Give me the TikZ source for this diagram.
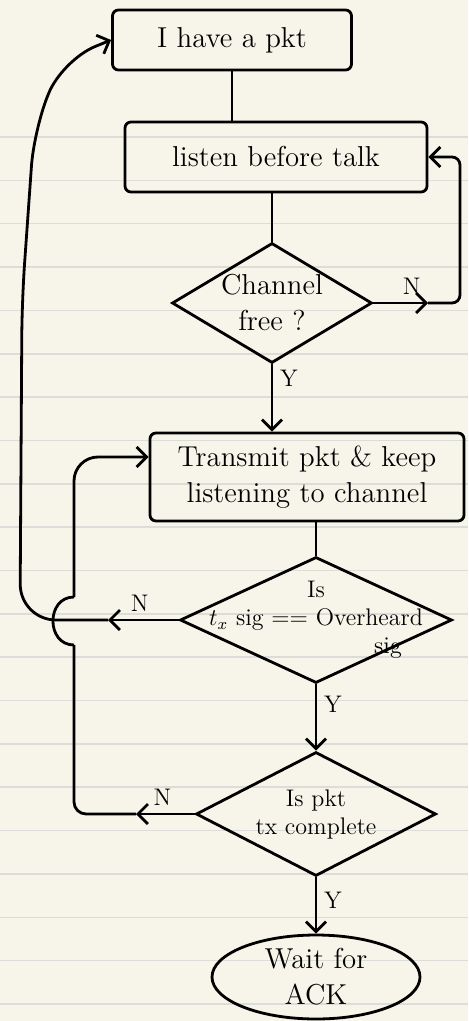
\documentclass[tikz,border=0pt]{standalone}
\usepackage{amsmath}
\usepackage{tikz}
\usetikzlibrary{shapes.geometric,arrows.meta,positioning}
\definecolor{paper}{HTML}{F7F5E9}
\definecolor{ruling}{HTML}{DCDCD8}

\begin{document}
\begin{tikzpicture}[x=0.5pt,y=-0.5pt,line width=1.4pt,
		>={Straight Barb[length=5pt,width=10pt]},
		box/.style={draw, rounded corners=3pt, font=\Large, align=center, inner sep=0pt},
		decide/.style={draw, diamond, inner sep=0pt},
		said/.style={font=\large}]
		\fill[paper] (0,0) rectangle (468,1021);
		\useasboundingbox (0,0) rectangle (468,1021);
		\foreach \k in {0,...,20}
			\draw[ruling, line width=0.8pt] (0,{137+43.35*\k}) -- (468,{137+43.35*\k});

		\node[box, minimum width=119.5pt, minimum height=30pt] (have) at (232,40) {I have a pkt};
		\node[box, minimum width=151pt, minimum height=35pt] (listen) at (276,157) {listen before talk};
		\node[decide, minimum width=100pt, minimum height=60pt,
			label={[font=\Large, align=center]center:Channel\\free ?}] (chan) at (272,303) {};
		\node[box, minimum width=157pt, minimum height=44pt] (tx) at (307,477) {Transmit pkt \& keep\\listening to channel};
		\node[decide, minimum width=136pt, minimum height=63pt,
			label={[font=\large, align=center]center:Is\\$t_x$ sig == Overheard\\\hspace*{6em}sig}] (sigchk) at (316,620) {};
		\node[decide, minimum width=120pt, minimum height=62pt,
			label={[font=\large, align=center]center:Is pkt\\tx complete}] (done) at (316,814) {};
		\node[draw, ellipse, minimum width=104pt, minimum height=42pt, font=\Large, align=center, inner sep=0pt] (ack) at (316,977) {Wait for\\ACK};

		\coordinate (nchan) at (428,303);
		\coordinate (nsig) at (108,620);
		\coordinate (ndone) at (136,814);

		\draw (have) -- (have |- listen.north);
		\draw (chan.north |- listen.south) -- (chan.north);
		\draw[->] (chan.east) -- node[said, above, pos=0.7]{N} (nchan);
		\draw[->, rounded corners=4pt] (nchan) -- ++(32,0) |- (listen.east);
		\draw[->] (chan.south) -- node[said, right, pos=0.2]{Y} (chan.south |- tx.north);
		\draw (sigchk.north |- tx.south) -- (sigchk.north);
		\draw[->] (sigchk.west) -- node[said, above, pos=0.55]{N} (nsig);
		\draw[->, rounded corners=18pt] (nsig) -- (20,620) -- (22,300) -- (34,130) -- (62,60) -- (have.west);
		\draw[->] (sigchk.south) -- node[said, right, pos=0.3]{Y} (done.north);
		\draw[->] (done.west) -- node[said, above, pos=0.55]{N} (ndone);
		\draw[rounded corners=6pt] (ndone) -- (74,814) -- (74,645);
		\draw (74,645) to[out=180, in=180, looseness=1.5] (74,597);
		\draw[->, rounded corners=12pt] (74,597) |- ([yshift=10pt]tx.west);
		\draw[->] (done.south) -- node[said, right, pos=0.4]{Y} (ack.north);
	\end{tikzpicture}
\end{document}
